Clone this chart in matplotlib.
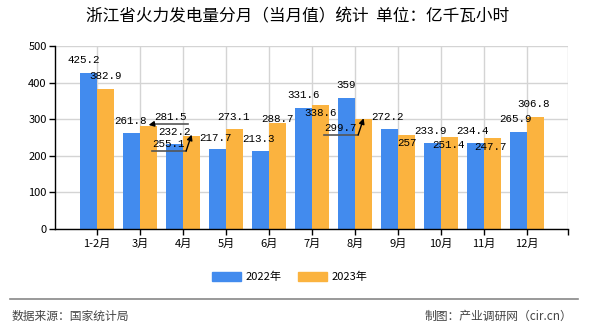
import matplotlib
matplotlib.use('Agg')
import matplotlib.pyplot as plt
from matplotlib.patches import Patch
import numpy as np

plt.rcParams['font.family'] = ['Noto Sans CJK SC', 'DejaVu Sans']

# 数据
months = ['1-2月', '3月', '4月', '5月', '6月', '7月', '8月', '9月', '10月', '11月', '12月']
v2022 = [425.2, 261.8, 232.2, 217.7, 213.3, 331.6, 359, 272.2, 233.9, 234.4, 265.9]
v2023 = [382.9, 281.5, 255.1, 273.1, 288.7, 338.6, 299.7, 257, 251.4, 247.7, 306.8]
series_names = ['2022年', '2023年']

# 标签相对柱顶的偏移（像素）
off2022 = [(-4.5, 13.4), (-0.5, 12), (0, 12), (-1.5, 11), (-1.5, 12), (0.5, 12.6),
           (0, 12.6), (-1.5, 12.4), (-1.5, 12.4), (-2.5, 12), (-2.5, 12.7)]
off2023 = [(-0.5, 12.9), (21.5, 9), (-23.5, -8.4), (-1.5, 12), (0, 4), (0, -8),
           (-23.5, -8.7), (0, -8), (-1.5, -8), (-2.5, -8.7), (-2.5, 12.7)]
# 有引导线的标签: 引导线从下划线哪一端伸向柱子
leader2023 = {1: 'left', 2: 'right', 6: 'right'}

blue = '#428BEE'
orange = '#FBB33F'

W, H = 590, 330
fig = plt.figure(figsize=(W / 100, H / 100), dpi=100)
ax = fig.add_axes([55 / W, (H - 229) / H, (568 - 55) / W, (229 - 46) / H])

x = np.arange(len(months))
bw = 0.4
ax.bar(x - bw / 2, v2022, bw, color=blue, zorder=2)
ax.bar(x + bw / 2, v2023, bw, color=orange, zorder=2)

xmin, xmax = -0.977, 10.953
ax.set_xlim(xmin, xmax)
ax.set_ylim(0, 500)

# 像素 -> 数据单位
px_x = (xmax - xmin) / (568 - 55)
px_y = 500 / (229 - 46)

ax.set_xticks(list(x) + [xmax])
ax.set_xticklabels(months + [''], fontsize=8)
ax.set_yticks(range(0, 501, 100))
ax.tick_params(axis='y', labelsize=8, length=4, width=1, pad=2)
ax.tick_params(axis='x', length=4, width=1, pad=3)
ax.grid(True, color='#d4d4d4', linewidth=1, zorder=0)
for s in ['top', 'right']:
    ax.spines[s].set_visible(False)
ax.spines['left'].set_linewidth(1)
ax.spines['bottom'].set_linewidth(1)

lab_font = dict(family=['Liberation Mono', 'DejaVu Sans Mono'], fontsize=7.8, color='black')

for i in range(len(months)):
    bx = x[i] - bw / 2
    dx, dy = off2022[i]
    ax.text(bx + dx * px_x, v2022[i] + dy * px_y, str(v2022[i]), ha='center', va='center',
            zorder=4, **lab_font)
    bx = x[i] + bw / 2
    dx, dy = off2023[i]
    tx, ty = bx + dx * px_x, v2023[i] + dy * px_y
    ax.text(tx, ty, str(v2023[i]), ha='center', va='center', zorder=4, **lab_font)
    if i in leader2023:
        uy = ty - 7 * px_y
        l, r = tx - 16 * px_x, tx + 18 * px_x
        start = l if leader2023[i] == 'left' else r
        ax.plot([l, r], [uy, uy], color='#555555', lw=1.2, zorder=5)
        ax.annotate('', xy=(bx, v2023[i] + 1 * px_y), xytext=(start, uy),
                    arrowprops=dict(arrowstyle='-|>', color='black', lw=1,
                                    shrinkA=0, shrinkB=0, mutation_scale=8), zorder=5)

fig.text(298 / W, 1 - 17 / H, '浙江省火力发电量分月（当月值）统计  单位：亿千瓦小时',
         ha='center', va='center', fontsize=12, color='black')

handles = [Patch(color=blue), Patch(color=orange)]
fig.legend(handles, series_names, loc='center', bbox_to_anchor=(290 / W, 1 - 277 / H),
           ncol=2, frameon=False, fontsize=8, handlelength=2.6, handleheight=0.9,
           handletextpad=0.4, columnspacing=1.5)

fig.add_artist(plt.Line2D([10 / W, 578 / W], [1 - 299 / H] * 2, color='#888888', lw=1.2))
fig.text(12 / W, 1 - 316 / H, '数据来源：国家统计局', ha='left', va='center', fontsize=8.5, color='#444444')
fig.text(572 / W, 1 - 316 / H, '制图：产业调研网（cir.cn）', ha='right', va='center', fontsize=8.5, color='#444444')

fig.savefig('out.png', dpi=100)
